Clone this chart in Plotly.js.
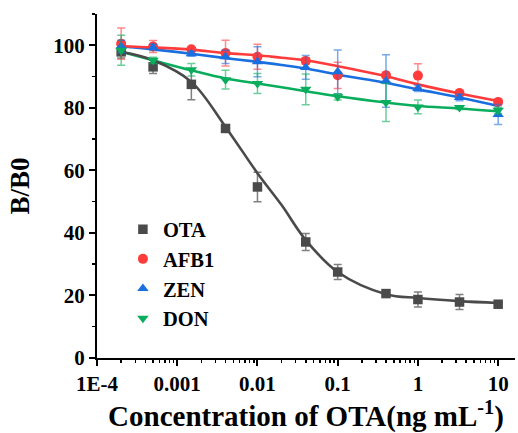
<!DOCTYPE html>
<html>
<head>
<meta charset="utf-8">
<script src="https://cdn.plot.ly/plotly-3.0.1.min.js"></script>
<style>html,body{margin:0;padding:0;background:#fff;}#chart{width:518px;height:433px;}</style>
</head>
<body>
<div id="chart"></div>
<script>
// Concentrations (ng/mL)
const conc = [0.0002, 0.0005, 0.0015, 0.004, 0.01, 0.04, 0.1, 0.4, 1, 3.3, 10];

// Measured B/B0 values and errors
const otaY   = [97.9, 93.1, 87.5, 73.4, 54.7, 37.1, 27.5, 20.6, 18.7, 17.9, 17.2];
const otaErr = [2.0, 2.1, 4.9, 0.8, 4.7, 2.7, 2.4, 0.7, 2.4, 2.4, 0.8];
const afbY   = [100.5, 99.6, 98.7, 97.5, 96.3, 95.0, 90.4, 90.4, 90.3, 84.7, 81.9];
const afbErr = [5.0, 1.9, 0.5, 4.1, 4.0, 1.0, 4.2, 1.0, 3.8, 1.0, 0.6];
const zenY   = [99.6, 99.3, 97.3, 96.3, 94.7, 92.9, 91.5, 88.6, 86.2, 83.3, 77.9];
const zenErr = [2.0, 1.0, 0.8, 2.1, 4.8, 3.8, 7.0, 8.4, 1.0, 1.0, 3.2];
const donY   = [98.4, 95.2, 92.2, 89.0, 87.8, 85.9, 83.5, 81.7, 80.3, 80.1, 79.2];
const donErr = [4.8, 1.0, 2.0, 3.0, 3.2, 4.9, 1.0, 6.1, 2.2, 0.6, 1.0];

// Fitted curves
const fitX   = [0.0002, 0.0005, 0.0015, 0.004, 0.01, 0.02, 0.04, 0.1, 0.4, 1, 3.3, 10];
const otaFit = [97.9, 95.2, 88.3, 73.9, 59.1, 48.9, 37.7, 27.5, 20.4, 19.2, 18.2, 17.6];
const afbFit = [99.7, 99.3, 98.6, 97.5, 96.8, 96.0, 95.2, 93.3, 90.1, 87.5, 84.6, 82.2];
const zenFit = [99.7, 98.7, 97.3, 95.9, 94.7, 93.7, 92.6, 90.6, 88.0, 85.9, 83.3, 80.6];
const donFit = [97.9, 95.2, 92.0, 89.4, 87.8, 86.6, 85.3, 83.7, 81.7, 80.6, 79.8, 78.9];

const names = ['OTA', 'AFB1', 'ZEN', 'DON'];
const xTickVals = [0.0001, 0.001, 0.01, 0.1, 1, 10];
const xTickText = ['1E-4', '0.001', '0.01', '0.1', '1', '10'];
const yTickVals = [0, 20, 40, 60, 80, 100];
const yTickText = ['0', '20', '40', '60', '80', '100'];

const colors = ['#4a4a4a', '#ff3b3b', '#1a6fe0', '#0aad5c'];
const errColors = ['rgba(74,74,74,0.7)', 'rgba(255,59,59,0.6)', 'rgba(26,111,224,0.6)', 'rgba(10,173,92,0.6)'];
const symbols = ['square', 'circle', 'triangle-up', 'triangle-down'];
const sizes = [9.5, 10, 10, 10];
const ys = [otaY, afbY, zenY, donY];
const errs = [otaErr, afbErr, zenErr, donErr];
const fits = [otaFit, afbFit, zenFit, donFit];
const bold = s => '<b>' + s + '</b>';

const traces = [];
for (let i = 3; i >= 0; i--) {
  traces.push({
    x: fitX, y: fits[i], mode: 'lines', type: 'scatter', showlegend: false,
    line: {color: colors[i], width: 2.6, shape: 'spline', smoothing: 1},
    hoverinfo: 'skip'
  });
}
for (let i = 0; i < 4; i++) {
  traces.push({
    x: conc, y: ys[i], name: bold(names[i]), mode: 'markers', type: 'scatter',
    marker: {color: colors[i], symbol: symbols[i], size: sizes[i]},
    error_y: {type: 'data', array: errs[i], visible: true, color: errColors[i], thickness: 1.5, width: 4}
  });
}

const fontFam = 'Liberation Serif';
const layout = {
  width: 518, height: 433,
  margin: {l: 97, r: 3, t: 14, b: 75},
  paper_bgcolor: '#ffffff', plot_bgcolor: '#ffffff',
  font: {family: fontFam, color: '#000'},
  showlegend: true,
  legend: {
    x: 0.062, y: 0.432, xanchor: 'left', yanchor: 'top',
    bgcolor: 'rgba(0,0,0,0)', borderwidth: 0,
    font: {family: fontFam, size: 20.5, color: '#000'},
    itemwidth: 30, tracegroupgap: 0
  },
  xaxis: {
    type: 'log', range: [-4, 1.21],
    tickmode: 'array', tickvals: xTickVals, ticktext: xTickText.map(bold),
    ticks: 'outside', ticklen: 6, tickwidth: 2, tickcolor: '#000',
    minor: {ticks: 'outside', ticklen: 3, tickwidth: 1.5, tickcolor: '#000', dtick: 'D1'},
    showline: true, linecolor: '#000', linewidth: 2,
    showgrid: false, zeroline: false, mirror: false,
    tickfont: {family: fontFam, size: 21, color: '#000'},
    title: {text: bold('Concentration of OTA(ng mL<sup>-1</sup>)'), standoff: 10,
            font: {family: fontFam, size: 29, color: '#000'}}
  },
  yaxis: {
    range: [0, 110],
    tickmode: 'array', tickvals: yTickVals, ticktext: yTickText.map(bold),
    ticks: 'outside', ticklen: 6, tickwidth: 2, tickcolor: '#000',
    minor: {ticks: 'outside', ticklen: 3, tickwidth: 1.5, tickcolor: '#000', dtick: 10},
    showline: true, linecolor: '#000', linewidth: 2,
    showgrid: false, zeroline: false, mirror: false,
    tickfont: {family: fontFam, size: 21, color: '#000'},
    title: {text: bold('B/B0'), standoff: 16,
            font: {family: fontFam, size: 27, color: '#000'}}
  }
};

Plotly.newPlot('chart', traces, layout, {displayModeBar: false, staticPlot: true});
</script>
</body>
</html>
